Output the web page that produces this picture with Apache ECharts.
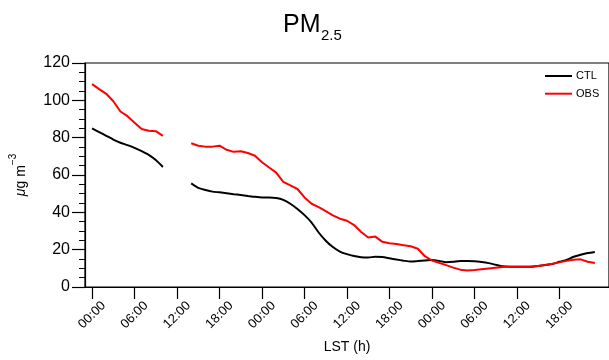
<!DOCTYPE html>
<html>
<head>
<meta charset="utf-8">
<script src="https://cdn.jsdelivr.net/npm/echarts@6/dist/echarts.min.js"></script>
<style>html,body{margin:0;padding:0;background:#fff;}#c{width:609px;height:360px;}</style>
</head>
<body>
<div id="c"></div>
<script>
// Hours on the axis (-1 .. 73); data hours 0..71
const axisHours = [];
for (let h = -1; h <= 73; h++) axisHours.push(h);
const tickHours = [0, 6, 12, 18, 24, 30, 36, 42, 48, 54, 60, 66];
const tickLabels = ["00:00","06:00","12:00","18:00","00:00","06:00","12:00","18:00","00:00","06:00","12:00","18:00"];
const seriesNames = ["CTL", "OBS"];
const ctl = [85,83,81,79,77.3,76,74.5,72.8,70.8,68,64.3,null,null,null,
  55.5,53.1,52,51.1,50.7,50.2,49.7,49.3,48.8,48.3,48,48,47.7,46.7,44.6,41.8,38.5,34.5,29.2,24.8,21.4,19,17.6,16.6,15.9,15.8,
  16.2,16.1,15.4,14.7,14.1,13.6,13.9,14.2,14.4,14,13.3,13.5,13.9,13.9,13.8,13.4,12.8,11.9,11.1,10.9,
  10.9,10.8,10.9,11.3,11.8,12.3,13.5,14.5,16.2,17.3,18.2,18.8];
const obs = [108.7,106,103.5,99.5,94,91.5,88,84.6,83.7,83.5,81,null,null,null,
  77,75.7,75.2,75.2,75.7,73.5,72.4,72.7,71.8,70.3,66.8,64,61.3,56.3,54.4,52.5,48,44.6,42.8,40.6,38.4,36.6,35.5,33.2,29.5,26.5,
  27,24.2,23.4,23,22.4,21.8,20.5,16.5,14.2,13,11.7,10.4,9.3,8.9,9.1,9.5,9.9,10.3,10.7,10.9,
  10.9,10.9,11,11.3,11.8,12.4,13.2,14,14.6,14.8,13.5,12.8];

const cats = axisHours.map(String);
function align(arr){ return axisHours.map(h => (h >= 0 && h < arr.length) ? arr[h] : null); }
const FONT = "'Liberation Sans', Helvetica, Arial, sans-serif";

const chart = echarts.init(document.getElementById('c'), null, {renderer:'canvas'});
chart.setOption({
  animation: false,
  backgroundColor: '#fff',
  graphic: [
    {type: 'text', left: 283, top: 13, style: {text: 'PM', font: "25px " + FONT, fill: '#000'}},
    {type: 'text', left: 321, top: 28, style: {text: '2.5', font: "15px " + FONT, fill: '#000'}}
  ],
  legend: {
    data: seriesNames.map(n => ({name: n, icon: 'rect'})),
    orient: 'vertical',
    left: 545, top: 70, padding: 0,
    itemWidth: 27, itemHeight: 2, itemGap: 5.7,
    textStyle: {fontFamily: FONT, fontSize: 11, lineHeight: 12, color: '#000', padding: [0,0,0,-1]}
  },
  grid: {left: 83, top: 63, right: -5, bottom: 73, show: true, borderColor: '#000', borderWidth: 1.2, containLabel: false},
  xAxis: {
    type: 'category',
    data: cats,
    boundaryGap: false,
    name: 'LST (h)',
    nameLocation: 'middle',
    nameGap: 53,
    nameTextStyle: {fontFamily: FONT, fontSize: 14, color: '#000'},
    axisLine: {lineStyle: {color: '#000', width: 1.2}},
    axisTick: {
      show: true, length: 12, inside: false,
      interval: (i, v) => tickHours.indexOf(Number(v)) >= 0,
      lineStyle: {color: '#000', width: 1.2}
    },
    axisLabel: {
      interval: (i, v) => tickHours.indexOf(Number(v)) >= 0,
      formatter: v => { const k = tickHours.indexOf(Number(v)); return k >= 0 ? tickLabels[k] : ''; },
      rotate: 45, align: 'center', verticalAlign: 'middle', margin: 28,
      fontFamily: FONT, fontSize: 13, color: '#000'
    },
    splitLine: {show: false}
  },
  yAxis: {
    type: 'value',
    min: 0, max: 120, interval: 20,
    name: '{i|μ}{t|g m}{s|−3}',
    nameLocation: 'middle',
    nameGap: 57,
    nameRotate: 90,
    nameTextStyle: {
      fontFamily: FONT, color: '#000',
      rich: {
        i: {fontSize: 14, fontStyle: 'italic', lineHeight: 20, verticalAlign: 'bottom', fontFamily: FONT, color: '#000'},
        t: {fontSize: 14, lineHeight: 20, verticalAlign: 'bottom', fontFamily: FONT, color: '#000'},
        s: {fontSize: 10, lineHeight: 10, verticalAlign: 'top', fontFamily: FONT, color: '#000'}
      }
    },
    axisLine: {show: true, lineStyle: {color: '#000', width: 1.2}},
    axisTick: {show: true, length: 13, inside: false, lineStyle: {color: '#000', width: 1.2}},
    minorTick: {show: true, splitNumber: 4, length: 6, lineStyle: {color: '#000', width: 1}},
    axisLabel: {margin: 15, fontFamily: FONT, fontSize: 16, color: '#000'},
    splitLine: {show: false},
    minorSplitLine: {show: false}
  },
  series: [
    {name: seriesNames[0], type: 'line', data: align(ctl), symbol: 'none', smooth: 0.2,
     connectNulls: false, lineStyle: {color: '#000', width: 2}, itemStyle: {color: '#000'}},
    {name: seriesNames[1], type: 'line', data: align(obs), symbol: 'none',
     connectNulls: false, lineStyle: {color: '#ff0000', width: 2}, itemStyle: {color: '#ff0000'}}
  ]
});
</script>
</body>
</html>
